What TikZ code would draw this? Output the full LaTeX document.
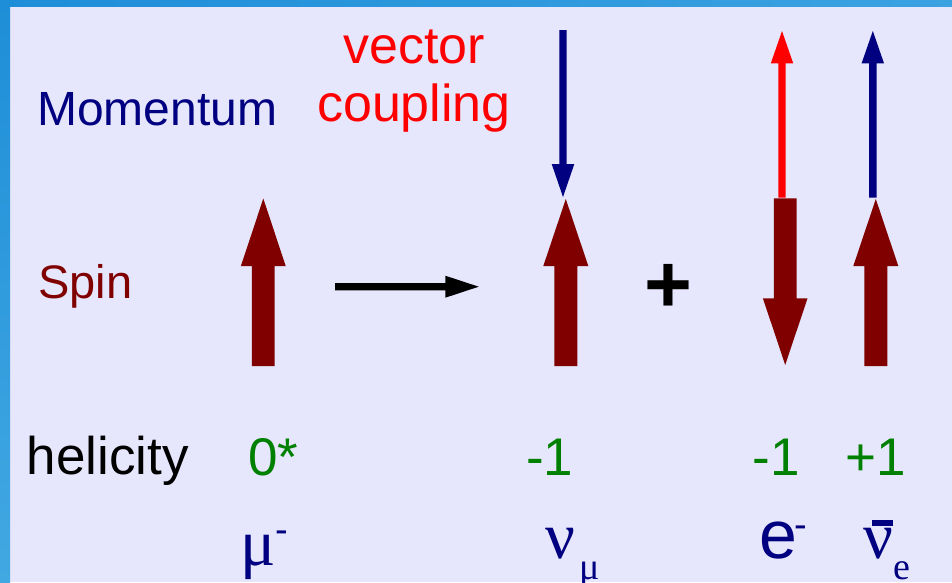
\documentclass[tikz,border=0pt]{standalone}
\usepackage{fontspec}
\setmainfont{Liberation Sans}
\newfontfamily\serifgreek{Liberation Serif}
\usetikzlibrary{calc}
\definecolor{bg}{RGB}{230,230,252}
\definecolor{barblue}{RGB}{30,142,216}
\definecolor{barblue2}{RGB}{66,168,226}
\definecolor{navy}{RGB}{0,0,128}
\definecolor{spinred}{RGB}{128,0,0}
\definecolor{vred}{RGB}{255,0,0}
\definecolor{hgreen}{RGB}{0,128,0}
% #1 style, #2 centre x, #3 tip y, #4 head base y, #5 tail y, #6 head half width, #7 shaft half width
\newcommand\myArrow[7]{\fill[#1] (#2,#3) -- ({#2+#6},#4) -- ({#2+#7},#4) -- ({#2+#7},#5) -- ({#2-#7},#5) -- ({#2-#7},#4) -- ({#2-#6},#4) -- cycle;}
\begin{document}
\begin{tikzpicture}[x=1pt,y=-1pt,
  lbl/.style={inner sep=0pt,anchor=base west},
  clbl/.style={inner sep=0pt,anchor=base},
  spinfill/.style={fill=spinred},
  navyfill/.style={fill=navy},
  redfill/.style={fill=vred},
  bigsans/.style={font=\fontsize{53}{60}\selectfont},
  particle/.style={text=navy,font=\serifgreek\fontsize{66}{70}\selectfont},
  subscr/.style={text=navy,font=\serifgreek\fontsize{38}{40}\selectfont},
  supscr/.style={text=navy,font=\fontsize{38}{40}\selectfont},
  helnum/.style={text=hgreen,font=\fontsize{53}{60}\selectfont}]
\useasboundingbox (0,0) rectangle (952,582);
\fill[bg] (0,0) rectangle (952,582);
\shade[top color=barblue, bottom color=barblue2] (0,0) rectangle (10,582);
\shade[left color=barblue, right color=barblue2!80!barblue] (0,0) rectangle (952,6);

% labels
\node[lbl, text=navy, font=\fontsize{48}{58}\selectfont] (mom) at (37,125) {Momentum};
\node[lbl, text=spinred, font=\fontsize{47}{56}\selectfont] (spin) at (38,298.5) {Spin};
\node[clbl, text=vred, font=\fontsize{52}{60}\selectfont] (vec) at (414,63.5) {vector};
\node[clbl, text=vred, font=\fontsize{52}{60}\selectfont] (coup) at (414,121) {coupling};
\node[lbl, bigsans] (hel) at (26.5,474) {helicity};

% helicity values
\node[lbl, helnum] (h0) at (248,475) {0*};
\node[lbl, helnum] (h1) at (526,475) {-1};
\node[lbl, helnum] (h2) at (752.5,475) {-1};
\node[lbl, helnum] (h3) at (845.5,475) {+1};

% spin arrows
\myArrow{spinfill}{263.3}{198.5}{266}{366}{22.4}{11.4}
\myArrow{spinfill}{565.8}{199}{266}{366}{22.5}{11.5}
\myArrow{spinfill}{785.2}{365}{298.3}{198.3}{22.3}{11.3}
\myArrow{spinfill}{875.8}{199}{266}{366}{22.5}{11.5}

% momentum arrows
\myArrow{navyfill}{563}{197}{164}{30}{11.3}{3.7}
\myArrow{redfill}{782}{31}{63.3}{197.7}{11.2}{3.7}
\myArrow{navyfill}{872.8}{31}{63.3}{197.7}{11.2}{3.8}

% decay arrow
\coordinate (dstart) at (335,286.7);
\coordinate (dend) at (478.7,286.7);
\fill[black] ($(dstart)+(0,-3.6)$) -- (445.3,283.1) -- (445.3,275.7) -- (dend) -- (445.3,297.7) -- (445.3,290.3) -- ($(dstart)+(0,3.6)$) -- cycle;

% plus
\node[clbl, font=\bfseries\fontsize{82}{90}\selectfont] (plus) at (668.3,312) {+};

% particles
\node[lbl, particle] (mu) at (240,565) {μ};
\node[lbl, supscr] (musup) at (275,542) {-};
\node[lbl, particle] (numu) at (545,558.5) {ν};
\node[lbl, subscr] (numusub) at (579,579) {μ};
\node[lbl, text=navy, font=\fontsize{68}{72}\selectfont] (el) at (759.5,558.5) {e};
\node[lbl, supscr] (elsup) at (794,537.7) {-};
\node[lbl, particle] (nue) at (863,558.5) {ν};
\node[lbl, subscr] (nuesub) at (893,579.5) {e};
\fill[navy] (872.3,520) rectangle (893,526);
\end{tikzpicture}
\end{document}
